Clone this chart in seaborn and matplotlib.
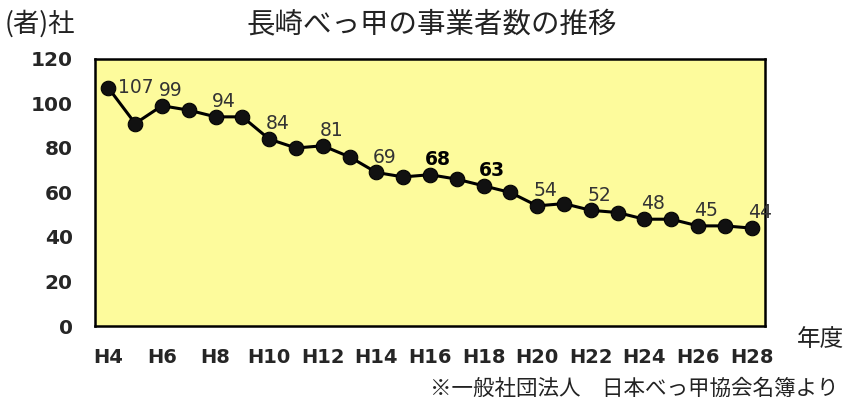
import matplotlib
matplotlib.use("Agg")
import matplotlib.pyplot as plt
import seaborn as sns
import pandas as pd

# Fiscal years (Heisei era) and number of tortoiseshell businesses in Nagasaki
years = ["H4", "H5", "H6", "H7", "H8", "H9", "H10", "H11", "H12", "H13", "H14", "H15", "H16",
         "H17", "H18", "H19", "H20", "H21", "H22", "H23", "H24", "H25", "H26", "H27", "H28"]
counts = [107, 91, 99, 97, 94, 94, 84, 80, 81, 76, 69, 67, 68,
          66, 63, 60, 54, 55, 52, 51, 48, 48, 45, 45, 44]
# Values annotated on the chart (every second year)
labeled_years = years[::2]
y_ticks = [0, 20, 40, 60, 80, 100, 120]

df = pd.DataFrame({"year": years, "count": counts, "idx": range(len(years))})

sns.set_theme(style="white")
plt.rcParams["font.family"] = ["Noto Sans CJK JP", "DejaVu Sans"]
num_font = ["DejaVu Sans"]

fig = plt.figure(figsize=(8.51, 4.07), dpi=100)
ax = fig.add_axes([95 / 851, 1 - 326 / 407, 670 / 851, 267 / 407])
ax.set_facecolor("#FDFB9C")

sns.lineplot(data=df, x="idx", y="count", ax=ax, color="black", linewidth=2.2,
             marker="o", markersize=10.5, markeredgecolor="black",
             markerfacecolor="#111111")

ax.set_xlim(-0.5, len(years) - 0.5)
ax.set_ylim(0, 120)
ax.set_yticks(y_ticks)
ax.set_yticklabels([str(v) for v in y_ticks], fontsize=14.5, fontweight="bold",
                   family=num_font)
tick_idx = [years.index(y) for y in labeled_years]
ax.set_xticks(tick_idx)
ax.set_xticklabels(labeled_years, fontsize=14, fontweight="bold", family=num_font)
ax.tick_params(axis="y", length=0, pad=16)
ax.tick_params(axis="x", length=0, pad=16)
ax.set_xlabel("")
ax.set_ylabel("")
for s in ax.spines.values():
    s.set_color("black")
    s.set_linewidth(1.8)

# Value labels
for i in tick_idx:
    v = counts[i]
    bold = v in (68, 63)
    if i == 0:
        ax.annotate(str(v), (i, v), xytext=(7, 0), textcoords="offset points",
                    ha="left", va="center", fontsize=13.5, color="#333333",
                    family=num_font)
    else:
        ax.annotate(str(v), (i, v), xytext=(6, 11), textcoords="offset points",
                    ha="center", va="center", fontsize=13.5,
                    color="black" if bold else "#333333",
                    fontweight="bold" if bold else "normal", family=num_font)

fig.text(432 / 851, 1 - 24 / 407, "長崎べっ甲の事業者数の推移", ha="center", va="center",
         fontsize=20.5, color="#222222")
fig.text(5 / 851, 1 - 24 / 407, "(者)社", ha="left", va="center", fontsize=19,
         color="#222222")
fig.text(820 / 851, 1 - 340 / 407, "年度", ha="center", va="center", fontsize=17,
         color="#222222")
fig.text(838 / 851, 1 - 389 / 407, "※一般社団法人　日本べっ甲協会名簿より", ha="right",
         va="center", fontsize=15.5, color="#222222")

fig.savefig("out.png", dpi=100)
